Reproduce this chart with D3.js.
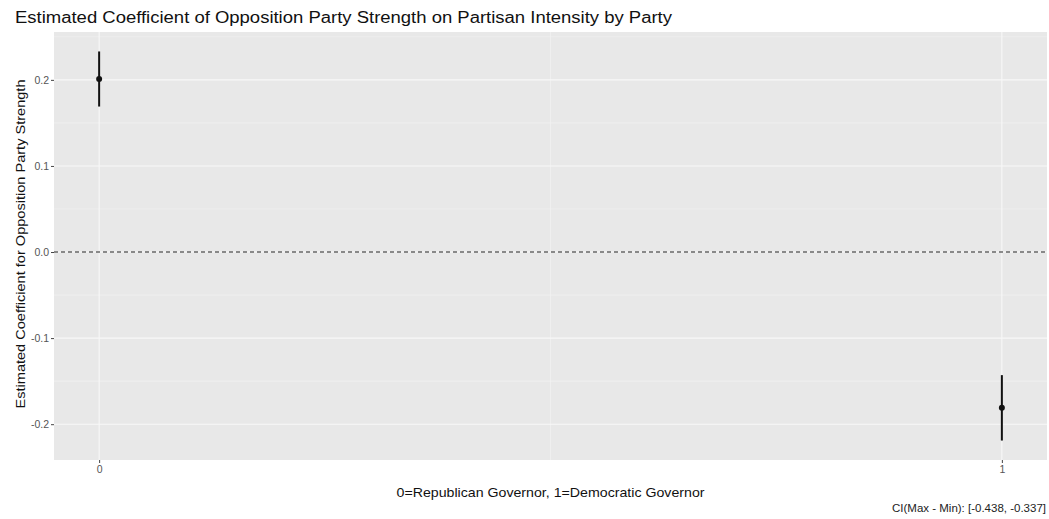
<!DOCTYPE html>
<html>
<head>
<meta charset="utf-8">
<script src="https://cdn.jsdelivr.net/npm/d3@7"></script>
<style>
  html, body { margin: 0; padding: 0; background: #ffffff; }
  svg { display: block; font-family: Arial, "Liberation Sans", sans-serif; }
</style>
</head>
<body>
<svg id="chart" width="1049" height="519"></svg>
<script>
// Governor party (0 = Republican, 1 = Democratic)
const parties = [0, 1];
// Point estimates of the opposition-strength coefficient
const estimates = [0.201, -0.181];
// Confidence interval bounds
const lowerCI = [0.169, -0.219];
const upperCI = [0.233, -0.143];
// Axis breaks
const yTicks = [-0.2, -0.1, 0.0, 0.1, 0.2];
const yTickLabels = ["-0.2", "-0.1", "0.0", "0.1", "0.2"];
const xTicks = [0, 1];
const xTickLabels = ["0", "1"];

const titleText = "Estimated Coefficient of Opposition Party Strength on Partisan Intensity by Party";
const xTitle = "0=Republican Governor, 1=Democratic Governor";
const yTitle = "Estimated Coefficient for Opposition Party Strength";
const captionText = "CI(Max - Min): [-0.438, -0.337]";

const svg = d3.select("#chart");
const panel = { left: 54, right: 1047, top: 32, bottom: 460 };

// Continuous scales with 5% padding on each side
const xMin = d3.min(parties), xMax = d3.max(parties);
const xPad = (xMax - xMin) * 0.05;
const x = d3.scaleLinear().domain([xMin - xPad, xMax + xPad]).range([panel.left, panel.right]);

const yLo = d3.min(lowerCI), yHi = d3.max(upperCI);
const yPad = (yHi - yLo) * 0.05;
const y = d3.scaleLinear().domain([yLo - yPad, yHi + yPad]).range([panel.bottom, panel.top]);

// Panel background
svg.append("rect")
  .attr("x", panel.left).attr("y", panel.top)
  .attr("width", panel.right - panel.left).attr("height", panel.bottom - panel.top)
  .attr("fill", "#e8e8e8");

// Minor grid
const yMinor = [-0.15, -0.05, 0.05, 0.15, 0.25].filter(v => v >= y.domain()[0] && v <= y.domain()[1]);
const xMinor = [0.5];
const grid = svg.append("g");
grid.selectAll("line.ymin").data(yMinor).join("line")
  .attr("x1", panel.left).attr("x2", panel.right)
  .attr("y1", d => y(d)).attr("y2", d => y(d))
  .attr("stroke", "#f4f4f4").attr("stroke-width", 0.6);
grid.selectAll("line.xmin").data(xMinor).join("line")
  .attr("y1", panel.top).attr("y2", panel.bottom)
  .attr("x1", d => x(d)).attr("x2", d => x(d))
  .attr("stroke", "#f4f4f4").attr("stroke-width", 0.6);
// Major grid
grid.selectAll("line.ymaj").data(yTicks).join("line")
  .attr("x1", panel.left).attr("x2", panel.right)
  .attr("y1", d => y(d)).attr("y2", d => y(d))
  .attr("stroke", "#f8f8f8").attr("stroke-width", 1.1);
grid.selectAll("line.xmaj").data(xTicks).join("line")
  .attr("y1", panel.top).attr("y2", panel.bottom)
  .attr("x1", d => x(d)).attr("x2", d => x(d))
  .attr("stroke", "#f8f8f8").attr("stroke-width", 1.1);

// Axes
const yAxis = d3.axisLeft(y).tickValues(yTicks)
  .tickFormat((d, i) => yTickLabels[i]).tickSize(3).tickPadding(2);
const gy = svg.append("g").attr("transform", `translate(${panel.left},0)`).call(yAxis);
const xAxis = d3.axisBottom(x).tickValues(xTicks)
  .tickFormat((d, i) => xTickLabels[i]).tickSize(3).tickPadding(3);
const gx = svg.append("g").attr("transform", `translate(0,${panel.bottom})`).call(xAxis);
[gx, gy].forEach(g => {
  g.select(".domain").remove();
  g.selectAll(".tick line").attr("stroke", "#444");
  g.selectAll(".tick text").attr("fill", "#555").style("font-size", "10.5px")
    .style("font-family", "Arial, 'Liberation Sans', sans-serif");
});

// Zero reference line
svg.append("line")
  .attr("x1", panel.left).attr("x2", panel.right)
  .attr("y1", y(0)).attr("y2", y(0))
  .attr("stroke", "#222").attr("stroke-width", 1.1)
  .attr("stroke-dasharray", "4,3");

// Confidence intervals and point estimates
const rows = parties.map((p, i) => ({ p, est: estimates[i], lo: lowerCI[i], hi: upperCI[i] }));
svg.selectAll("line.ci").data(rows).join("line")
  .attr("x1", d => x(d.p)).attr("x2", d => x(d.p))
  .attr("y1", d => y(d.lo)).attr("y2", d => y(d.hi))
  .attr("stroke", "#111").attr("stroke-width", 2);
svg.selectAll("circle.pt").data(rows).join("circle")
  .attr("cx", d => x(d.p)).attr("cy", d => y(d.est))
  .attr("r", 3).attr("fill", "#111");

// Titles (stretched slightly to the rendered widths)
svg.append("text").attr("x", 15).attr("y", 23)
  .style("font-size", "16px").attr("fill", "#111")
  .attr("textLength", 657).attr("lengthAdjust", "spacingAndGlyphs")
  .text(titleText);
svg.append("text")
  .attr("x", (panel.left + panel.right) / 2).attr("y", 497)
  .attr("text-anchor", "middle").style("font-size", "13.5px").attr("fill", "#111")
  .attr("textLength", 308).attr("lengthAdjust", "spacingAndGlyphs")
  .text(xTitle);
svg.append("text")
  .attr("transform", `translate(25,${(panel.top + panel.bottom) / 2 - 2}) rotate(-90)`)
  .attr("text-anchor", "middle").style("font-size", "13.5px").attr("fill", "#111")
  .attr("textLength", 329).attr("lengthAdjust", "spacingAndGlyphs")
  .text(yTitle);
svg.append("text")
  .attr("x", 1046).attr("y", 512)
  .attr("text-anchor", "end").style("font-size", "10px").attr("fill", "#222")
  .attr("textLength", 154).attr("lengthAdjust", "spacingAndGlyphs")
  .text(captionText);
</script>
</body>
</html>
